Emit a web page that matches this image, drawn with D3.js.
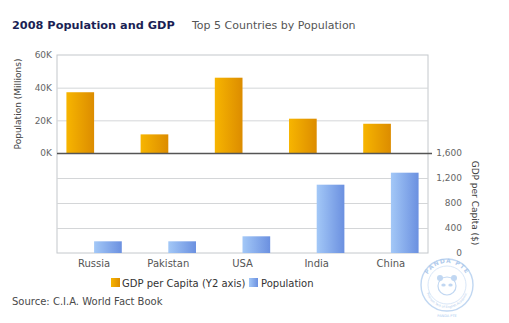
<!DOCTYPE html>
<html>
<head>
<meta charset="utf-8">
<script src="https://cdn.jsdelivr.net/npm/d3@7"></script>
<style>
  body { margin: 0; background: #fff; }
  svg { display: block; font-family: "DejaVu Sans", Verdana, sans-serif; }
</style>
</head>
<body>
<svg id="chart" width="509" height="323"></svg>
<script>
const countries = ["Russia", "Pakistan", "USA", "India", "China"];
const gdpPerCapita = [37200, 11400, 46100, 21000, 17900];
const population = [187, 187, 267, 1093, 1285];
const topTicks = [0, 20000, 40000, 60000];
const bottomTicks = [0, 400, 800, 1200, 1600];

const svg = d3.select("#chart");
const plotLeft = 57, plotRight = 428, plotTop = 55, plotMid = 153, plotBottom = 253;

const x = d3.scaleBand().domain(countries).range([plotLeft, plotRight]);
const inner = d3.scaleBand().domain(["gdp", "pop"])
  .range([0, x.bandwidth()]).paddingInner(0).paddingOuter(0.34);
const yTop = d3.scaleLinear().domain([0, 60000]).range([plotMid, plotTop]);
const yBot = d3.scaleLinear().domain([0, 1600]).range([plotBottom, plotMid]);

// gradients for the bars
const defs = svg.append("defs");
function grad(id, c1, c2) {
  const g = defs.append("linearGradient").attr("id", id)
    .attr("x1", "0%").attr("x2", "100%").attr("y1", "0%").attr("y2", "0%");
  g.append("stop").attr("offset", "0%").attr("stop-color", c1);
  g.append("stop").attr("offset", "100%").attr("stop-color", c2);
}
grad("orange", "#f7b500", "#dc8c00");
grad("blue", "#a3c8f7", "#6b90e0");

// title
svg.append("text").attr("x", 12).attr("y", 29)
  .attr("font-size", 11.3).attr("font-weight", "bold").attr("fill", "#1b1f55")
  .text("2008 Population and GDP");
svg.append("text").attr("x", 192).attr("y", 29)
  .attr("font-size", 11).attr("fill", "#555")
  .text("Top 5 Countries by Population");

// panel frames and grid
svg.append("rect").attr("x", plotLeft).attr("y", plotTop)
  .attr("width", plotRight - plotLeft).attr("height", plotBottom - plotTop)
  .attr("fill", "none").attr("stroke", "#c4c8cc");

svg.append("g").selectAll("line")
  .data(topTicks.slice(1, -1))
  .join("line")
  .attr("x1", plotLeft).attr("x2", plotRight)
  .attr("y1", d => yTop(d) + 0.5).attr("y2", d => yTop(d) + 0.5)
  .attr("stroke", "#d4d6d8");

svg.append("g").selectAll("line")
  .data(bottomTicks.slice(1, -1))
  .join("line")
  .attr("x1", plotLeft).attr("x2", plotRight)
  .attr("y1", d => yBot(d) + 0.5).attr("y2", d => yBot(d) + 0.5)
  .attr("stroke", "#d4d6d8");

// bars
svg.append("g").selectAll("rect")
  .data(countries)
  .join("rect")
  .attr("x", d => x(d) + inner("gdp"))
  .attr("width", inner.bandwidth())
  .attr("y", (d, i) => yTop(gdpPerCapita[i]))
  .attr("height", (d, i) => plotMid - yTop(gdpPerCapita[i]))
  .attr("fill", "url(#orange)");

svg.append("g").selectAll("rect")
  .data(countries)
  .join("rect")
  .attr("x", d => x(d) + inner("pop"))
  .attr("width", inner.bandwidth())
  .attr("y", (d, i) => yBot(population[i]))
  .attr("height", (d, i) => plotBottom - yBot(population[i]))
  .attr("fill", "url(#blue)");

// zero line between panels
svg.append("line")
  .attr("x1", plotLeft).attr("x2", plotRight + 4)
  .attr("y1", plotMid + 0.5).attr("y2", plotMid + 0.5)
  .attr("stroke", "#555").attr("stroke-width", 1.3);

// left axis
const axisL = svg.append("g").attr("transform", `translate(${plotLeft},0)`)
  .call(d3.axisLeft(yTop).tickValues(topTicks).tickSize(0).tickPadding(5)
    .tickFormat(d => (d / 1000) + "K"));
axisL.select(".domain").remove();
axisL.selectAll("text").attr("font-size", 9).attr("fill", "#666")
  .attr("font-family", "DejaVu Sans, sans-serif");

// right axis
const axisR = svg.append("g").attr("transform", `translate(${plotRight},0)`)
  .call(d3.axisRight(yBot).tickValues(bottomTicks).tickSize(0).tickPadding(34)
    .tickFormat(d3.format(",")));
axisR.select(".domain").remove();
axisR.selectAll("text").attr("font-size", 9).attr("fill", "#666")
  .attr("text-anchor", "end")
  .attr("font-family", "DejaVu Sans, sans-serif");

// category labels
svg.append("g").selectAll("text")
  .data(countries)
  .join("text")
  .attr("x", d => x(d) + x.bandwidth() / 2)
  .attr("y", 267)
  .attr("text-anchor", "middle")
  .attr("font-size", 10).attr("fill", "#555")
  .text(d => d);

// axis titles
svg.append("text")
  .attr("transform", `translate(21,${(plotTop + plotMid) / 2}) rotate(-90)`)
  .attr("text-anchor", "middle").attr("font-size", 9).attr("fill", "#444")
  .text("Population (Millions)");
svg.append("text")
  .attr("transform", `translate(472,${(plotMid + plotBottom) / 2}) rotate(90)`)
  .attr("text-anchor", "middle").attr("font-size", 9).attr("fill", "#444")
  .text("GDP per Capita ($)");

// legend
const legend = svg.append("g").attr("font-size", 10).attr("fill", "#333");
legend.append("rect").attr("x", 111).attr("y", 278).attr("width", 9).attr("height", 9)
  .attr("fill", "url(#orange)");
legend.append("text").attr("x", 122).attr("y", 287).text("GDP per Capita (Y2 axis)");
legend.append("rect").attr("x", 249).attr("y", 278).attr("width", 9).attr("height", 9)
  .attr("fill", "url(#blue)");
legend.append("text").attr("x", 261).attr("y", 287).text("Population");

// source note
svg.append("text").attr("x", 12).attr("y", 305)
  .attr("font-size", 10).attr("fill", "#4a4a4a")
  .text("Source: C.I.A. World Fact Book");

// stamp in the corner
const stamp = svg.append("g").attr("transform", "translate(447,285)")
  .attr("opacity", 0.55);
stamp.append("circle").attr("r", 26).attr("fill", "none")
  .attr("stroke", "#8fb8e8").attr("stroke-width", 1.4);
stamp.append("circle").attr("r", 19).attr("fill", "none")
  .attr("stroke", "#a9c9ef").attr("stroke-width", 0.8);
defs.append("path").attr("id", "arcTop")
  .attr("d", "M-22,0 A22,22 0 0,1 22,0");
defs.append("path").attr("id", "arcBot")
  .attr("d", "M-21,2 A21,21 0 0,0 21,2");
stamp.append("text").attr("font-size", 6).attr("font-weight", "bold")
  .attr("fill", "#6fa0dc").attr("letter-spacing", 1)
  .append("textPath").attr("href", "#arcTop").attr("startOffset", "50%")
  .attr("text-anchor", "middle").text("PANDA PTE");
stamp.append("text").attr("font-size", 3.2).attr("fill", "#6fa0dc")
  .append("textPath").attr("href", "#arcBot").attr("startOffset", "50%")
  .attr("text-anchor", "middle").text("Pearson Test of English Academic");
stamp.append("circle").attr("r", 9).attr("cy", 1).attr("fill", "none")
  .attr("stroke", "#8fb8e8").attr("stroke-width", 1.2);
stamp.append("circle").attr("r", 3).attr("cx", -7).attr("cy", -7).attr("fill", "#8fb8e8");
stamp.append("circle").attr("r", 3).attr("cx", 7).attr("cy", -7).attr("fill", "#8fb8e8");
stamp.append("ellipse").attr("rx", 2.2).attr("ry", 1.6).attr("cx", -3.5).attr("cy", 0).attr("fill", "#8fb8e8");
stamp.append("ellipse").attr("rx", 2.2).attr("ry", 1.6).attr("cx", 3.5).attr("cy", 0).attr("fill", "#8fb8e8");
svg.append("text").attr("x", 447).attr("y", 317).attr("text-anchor", "middle")
  .attr("font-size", 3.5).attr("fill", "#a9c9ef")
  .text("PANDA PTE");
</script>
</body>
</html>
